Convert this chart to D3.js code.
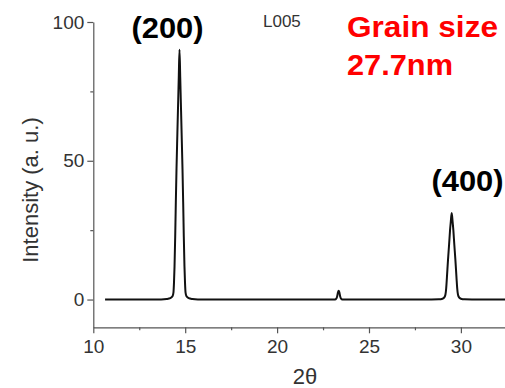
<!DOCTYPE html>
<html>
<head>
<meta charset="utf-8">
<script src="https://cdn.jsdelivr.net/npm/d3@7"></script>
<style>
  html, body { margin: 0; padding: 0; background: #fff; }
  svg { display: block; font-family: "Liberation Sans", Arial, sans-serif; }
</style>
</head>
<body>
<svg id="chart" width="505" height="388"></svg>
<script>
// ---- data ----
const twoTheta = [
  10.64, 12.0, 13.0, 13.69, 13.99, 14.19, 14.31, 14.36, 14.39, 14.42, 14.456, 14.49, 14.527, 14.575, 14.62, 14.65,
  14.69,
  14.73, 14.76, 14.805, 14.853, 14.89, 14.924, 14.96, 14.99, 15.02, 15.07, 15.19, 15.39, 15.69, 16.5, 18.0,
  22.8, 23.15, 23.22, 23.27, 23.31, 23.35, 23.39, 23.43, 23.48, 23.55, 24.5,
  28.0, 28.8, 29.0, 29.10, 29.16, 29.20, 29.24, 29.30, 29.36, 29.41, 29.45,
  29.50,
  29.55, 29.59, 29.64, 29.70, 29.76, 29.80, 29.84, 29.90, 30.0, 30.2, 31.0, 32.4
];
const intensity = [
  0, 0, 0.02, 0.05, 0.2, 0.5, 1.2, 2.5, 6, 12, 22.7, 35, 47, 60, 72, 80,
  90,
  80, 72, 60, 47, 35, 22.7, 12, 6, 2.5, 1.2, 0.5, 0.2, 0.05, 0.02, 0,
  0, 0, 0.3, 1.2, 2.5, 3.2, 2.5, 1.2, 0.3, 0, 0,
  0, 0.08, 0.3, 0.8, 1.8, 4, 8, 14.4, 20, 25, 28,
  31.2,
  28, 25, 20, 14.4, 8, 4, 1.8, 0.8, 0.3, 0.08, 0, 0
];
const xMajorTicks = [10, 15, 20, 25, 30];
const xMinorTicks = [12.5, 17.5, 22.5, 27.5];
const yMajorTicks = [0, 50, 100];
const yMinorTicks = [25, 75];
const xTitle = "2\u03B8";
const yTitle = "Intensity (a. u.)";
const sampleLabel = "L005";
const peakLabels = [
  { text: "(200)", x: 131.5, y: 38 },
  { text: "(400)", x: 431.5, y: 191 }
];
const grainLines = ["Grain size", "27.7nm"];
const grainWidths = [151, 106];

// ---- scales ----
const svg = d3.select("#chart");
const x = d3.scaleLinear().domain([10, 32.4]).range([93.3, 505]);
const y = d3.scaleLinear().domain([-10, 100]).range([327.3, 22]);

const axisColor = "#555";
const textColor = "#333";

// ---- y axis ----
const gy = svg.append("g").attr("transform", `translate(${x(10)},0)`);
gy.call(d3.axisLeft(y).tickValues(yMajorTicks).tickSize(6).tickSizeOuter(0).tickPadding(3)
  .tickFormat(d3.format("d")));
gy.append("g").call(d3.axisLeft(y).tickValues(yMinorTicks).tickSize(3).tickFormat(""))
  .select(".domain").remove();
gy.selectAll(".domain, line").attr("stroke", axisColor).attr("stroke-width", 1.2);
gy.selectAll("text").attr("font-size", 19).attr("fill", textColor)
  .attr("font-family", "Liberation Sans, Arial, sans-serif");

// ---- x axis ----
const gx = svg.append("g").attr("transform", `translate(0,${y(-10)})`);
gx.call(d3.axisBottom(x).tickValues(xMajorTicks).tickSize(6).tickSizeOuter(0).tickPadding(6)
  .tickFormat(d3.format("d")));
gx.append("g").call(d3.axisBottom(x).tickValues(xMinorTicks).tickSize(3).tickFormat(""))
  .select(".domain").remove();
gx.selectAll(".domain, line").attr("stroke", axisColor).attr("stroke-width", 1.2);
gx.selectAll("text").attr("font-size", 19).attr("fill", textColor)
  .attr("font-family", "Liberation Sans, Arial, sans-serif");

// ---- data line ----
const pts = twoTheta.map((t, i) => [t, intensity[i]]);
svg.append("path")
  .datum(pts)
  .attr("fill", "none")
  .attr("stroke", "#111")
  .attr("stroke-width", 2)
  .attr("stroke-linejoin", "round")
  .attr("d", d3.line().x(d => x(d[0])).y(d => y(d[1])).curve(d3.curveMonotoneX));

// ---- axis titles ----
svg.append("text")
  .attr("x", 305).attr("y", 384)
  .attr("text-anchor", "middle")
  .attr("font-size", 22).attr("fill", textColor)
  .text(xTitle);

svg.append("text")
  .attr("transform", "translate(38,190) rotate(-90)")
  .attr("text-anchor", "middle")
  .attr("font-size", 22).attr("fill", textColor)
  .text(yTitle);

// ---- annotations ----
svg.append("text")
  .attr("x", 263).attr("y", 27)
  .attr("font-size", 17).attr("fill", textColor)
  .text(sampleLabel);

svg.selectAll("text.peak")
  .data(peakLabels)
  .enter().append("text")
  .attr("class", "peak")
  .attr("x", d => d.x).attr("y", d => d.y)
  .attr("font-size", 30).attr("font-weight", "bold").attr("fill", "#000")
  .attr("textLength", 72).attr("lengthAdjust", "spacingAndGlyphs")
  .text(d => d.text);

svg.selectAll("text.grain")
  .data(grainLines)
  .enter().append("text")
  .attr("class", "grain")
  .attr("x", 347).attr("y", (d, i) => 37 + i * 38)
  .attr("font-size", 29).attr("font-weight", "bold").attr("fill", "#ff0000")
  .attr("textLength", (d, i) => grainWidths[i]).attr("lengthAdjust", "spacingAndGlyphs")
  .text(d => d);
</script>
</body>
</html>
